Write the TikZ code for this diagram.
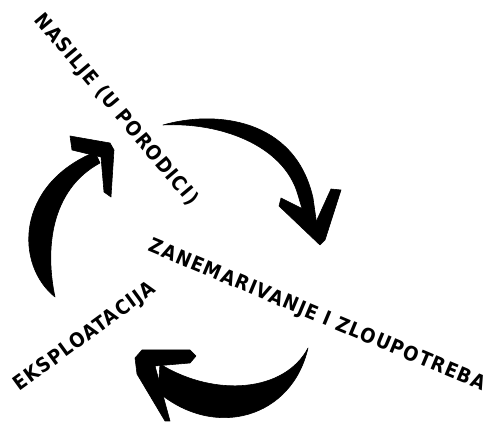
\documentclass[tikz,border=0pt]{standalone}
\usepackage{fontspec}
\setmainfont{DejaVu Sans Condensed}
\begin{document}
\begin{tikzpicture}[x=1pt,y=-1pt,
  lbl/.style={font=\fontsize{20}{20}\selectfont\bfseries\addfontfeature{LetterSpace=6}, inner sep=0pt, anchor=center},
  brush/.style={fill=black, draw=black, line width=0.6pt, line join=round}]
\useasboundingbox (0,0) rectangle (491,422);
% labels
\node[lbl, rotate=-50] (nasilje) at (116,110) {NASILJE (U PORODICI)};
\node[lbl, rotate=-22.7] (zanem) at (317,316) {ZANEMARIVANJE I ZLOUPOTREBA};
\node[lbl, rotate=36] (eksp) at (85,337) {EKSPLOATACIJA};
% arrow A (top right)
\fill[brush] (163,125) .. controls (215,110) and (295,118) .. (313,198) -- (319,240)
  -- (306,222) -- (298,195) .. controls (284,145) and (220,122) .. (163,125) -- cycle;
\fill[brush] (320,245) -- (279,206) -- (281,198) -- (305,210) -- (316,222) -- (331,189) -- (341,190) -- (325,240) -- cycle;
% arrow B (left)
\fill[brush] (55,297) .. controls (15,265) and (15,185) .. (95,152)
  -- (100,163) .. controls (50,190) and (45,250) .. (55,297) -- cycle;
\fill[brush] (70,136) -- (110,143) -- (114,150) -- (111,197) -- (104,192) -- (101,157) -- (72,150) -- cycle;
% arrow C (bottom)
\fill[brush] (308,348) .. controls (292,418) and (215,440) .. (158,392)
  -- (160,364) .. controls (215,398) and (285,392) .. (308,348) -- cycle;
\fill[brush] (135,358) -- (142,350) -- (190,350) -- (196,356) -- (190,363) -- (155,366) -- (170,421) -- (165,421) -- (137,374) -- cycle;
\end{tikzpicture}
\end{document}
